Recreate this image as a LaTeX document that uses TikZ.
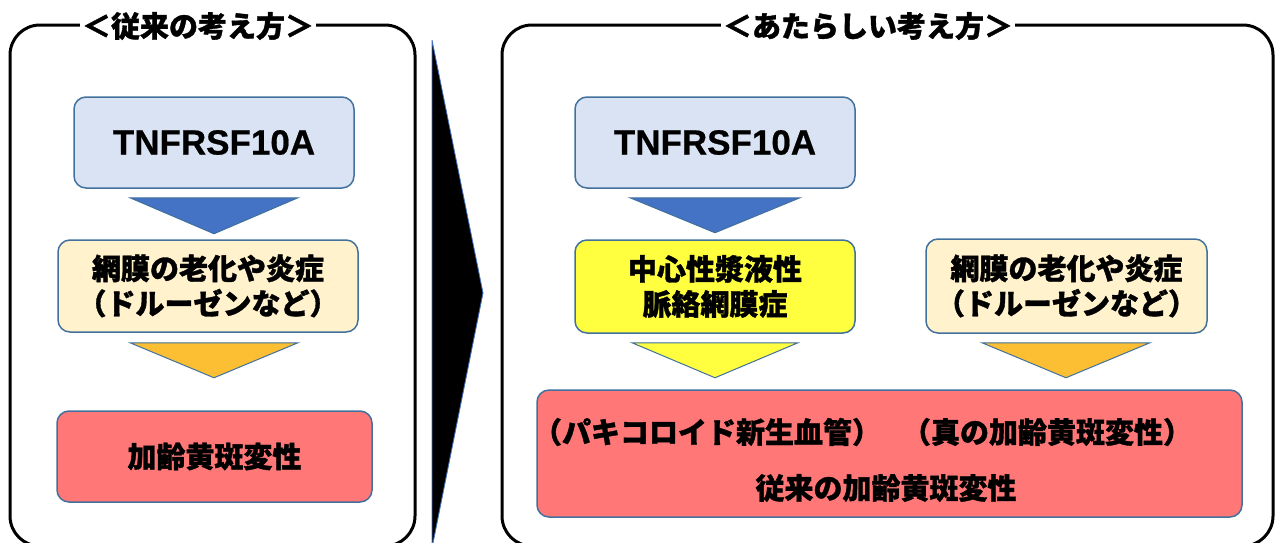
\documentclass[tikz,border=0pt]{standalone}
\usepackage{fontspec}
\setmainfont{Liberation Sans}[BoldFeatures={FakeBold=0.6}]
\newfontfamily\jp{Noto Sans CJK JP}[BoldFeatures={FakeBold=1.2}]
\usetikzlibrary{calc}
\definecolor{boxline}{HTML}{41719C}
\definecolor{lblue}{HTML}{DAE3F3}
\definecolor{cream}{HTML}{FFF2CC}
\definecolor{yel}{HTML}{FFFF40}
\definecolor{redf}{HTML}{FF7777}
\definecolor{triblue}{HTML}{4472C4}
\definecolor{triorange}{HTML}{FCBE32}
\tikzset{
  frame/.style={draw=black, line width=3pt, rounded corners=30pt},
  title/.style={fill=white, inner xsep=2pt, inner ysep=2pt, font=\jp\bfseries\fontsize{29}{34}\selectfont},
  box/.style={draw=boxline, line width=1.5pt, rounded corners=12pt, inner sep=0pt, align=center,
    font=\jp\bfseries\fontsize{29}{35}\selectfont},
  genebox/.style={box, fill=lblue, font=\bfseries\fontsize{35}{40}\selectfont},
  jtext/.style={inner sep=0pt, font=\jp\bfseries\fontsize{29}{35}\selectfont},
  tri/.style={draw=boxline, line width=1pt, line join=miter}
}
\begin{document}
\begin{tikzpicture}[x=1pt,y=-1pt]
\useasboundingbox (0,0) rectangle (1280,542);
\clip (0,0) rectangle (1280,542);
% frames
\draw[frame] (10,25) rectangle (415,546);
\draw[frame] (502,25) rectangle (1273,546);
\node[title] (T1) at (198,26) {＜従来の考え方＞};
\node[title] (T2) at (868,26) {＜あたらしい考え方＞};
% chevron
\draw[fill=black, draw=triblue, line width=0.8pt] (432,40) -- (483,293) -- (432,548) -- cycle;
% left column
\node[genebox, minimum width=280, minimum height=91] (L1) at (214,142.5) {TNFRSF10A};
\node[box, fill=cream, minimum width=300, minimum height=92] (L2) at (208,286) {網膜の老化や炎症\\（ドルーゼンなど）};
\node[box, fill=redf, minimum width=315, minimum height=91] (L3) at (214.5,456.5) {加齢黄斑変性};
\draw[tri, fill=triblue] ($(L1.south)+(-84,9)$) -- ($(L1.south)+(84,9)$) -- ($(L1.south)+(0,45)$) -- cycle;
\draw[tri, fill=triorange] ($(L2.south)+(-78,10)$) -- ($(L2.south)+(90,10)$) -- ($(L2.south)+(6,45)$) -- cycle;
% right column
\node[genebox, minimum width=280, minimum height=91] (R1) at (715,142.5) {TNFRSF10A};
\node[box, fill=yel, minimum width=280, minimum height=93] (R2) at (715,286.5) {中心性漿液性\\脈絡網膜症};
\node[box, fill=cream, minimum width=281, minimum height=94] (R3) at (1066.5,286) {網膜の老化や炎症\\（ドルーゼンなど）};
\node[box, fill=redf, minimum width=705, minimum height=127] (R4) at (889.5,453.5) {};
\draw[tri, fill=triblue] ($(R1.south)+(-85,9)$) -- ($(R1.south)+(85,9)$) -- ($(R1.south)+(0,44)$) -- cycle;
\draw[tri, fill=yel] ($(R2.south)+(-83,9)$) -- ($(R2.south)+(83,9)$) -- ($(R2.south)+(0,44)$) -- cycle;
\draw[tri, fill=triorange] ($(R3.south)+(-84.5,9)$) -- ($(R3.south)+(83.5,9)$) -- ($(R3.south)+(-0.5,44)$) -- cycle;
\node[jtext] (P1) at (707,432) {（パキコロイド新生血管）};
\node[jtext] (P2) at (1047,432) {（真の加齢黄斑変性）};
\node[jtext] (P3) at (886,488) {従来の加齢黄斑変性};
\end{tikzpicture}
\end{document}
